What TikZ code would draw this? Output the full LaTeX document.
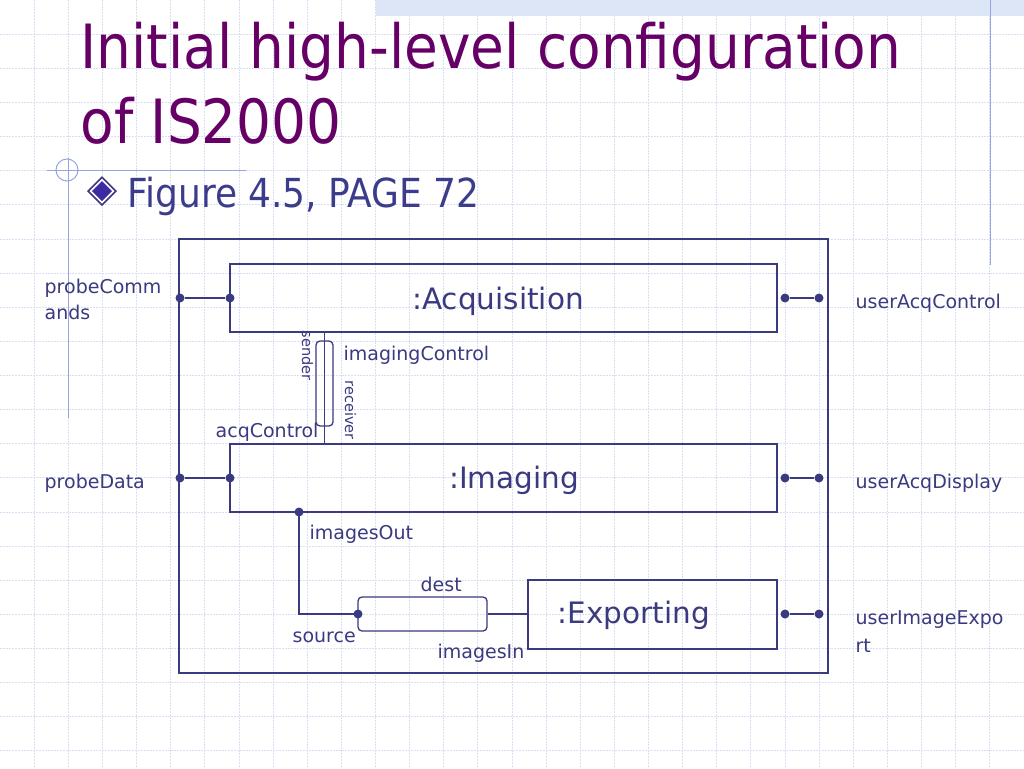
\documentclass[tikz,border=0pt]{standalone}
\usepackage{fontspec}
\setmainfont{DejaVu Sans Condensed}
\newfontfamily\diagfont{DejaVu Sans}
\usetikzlibrary{positioning}
\definecolor{navy}{RGB}{58,58,128}
\definecolor{plum}{RGB}{102,0,102}
\definecolor{slate}{RGB}{60,60,140}
\definecolor{deco}{RGB}{150,165,225}
\definecolor{gridc}{RGB}{218,222,242}
\definecolor{band}{RGB}{221,230,246}
\definecolor{gem}{RGB}{62,42,162}
\begin{document}
\begin{tikzpicture}[x=1pt,y=-1pt,line width=1.3pt,navy,
                    comp/.style={draw=navy,rectangle,inner sep=0pt,
                      font=\diagfont\fontsize{29.5}{36}\selectfont,text=navy},
                    port/.style={circle,fill=navy,inner sep=0pt,minimum size=9pt},
                    lbl/.style={text=navy,font=\diagfont\fontsize{19}{23}\selectfont,
                      inner sep=0pt,anchor=base west}]
    \tikzset{conn/.style={draw=navy,rounded corners=4pt,inner sep=0pt},
             vlbl/.style={lbl,rotate=-90,font=\diagfont\fontsize{14.5}{18}\selectfont}}
    \fill[white] (0,0) rectangle (1024,768);
    \useasboundingbox (0,0) rectangle (1024,768);
    \foreach \i in {1,...,29}
        \draw[gridc,line width=0.8pt,dash pattern=on 2pt off 1pt] (34.13*\i,0) -- (34.13*\i,768);
    \foreach \i in {1,...,22}
        \draw[gridc,line width=0.8pt,dash pattern=on 2pt off 1pt] (0,34.13*\i) -- (1024,34.13*\i);
    \fill[band] (376,0) rectangle (1024,16);
    \draw[deco,line width=1pt] (990,0) -- (990,265);
    \draw[deco,line width=1pt] (68,158) -- (68,418);
    \draw[deco,line width=1pt] (47,170) -- (246,170);
    \draw[deco,line width=1pt] (67,170) circle (11);
    \node[text=plum,font=\fontsize{61}{75}\selectfont,inner sep=0pt,anchor=base west] (t1) at (80,68) {Initial high-level configuration};
    \node[text=plum,font=\fontsize{61}{75}\selectfont,inner sep=0pt,anchor=base west] (t2) at (80,143) {of IS2000};
    \fill[navy] (102,176) -- (117,191) -- (102,206) -- (87,191) -- cycle;
    \fill[white] (102,178.5) -- (114.5,191) -- (102,203.5) -- (89.5,191) -- cycle;
    \fill[gem] (102,181) -- (112,191) -- (102,201) -- (92,191) -- cycle;
    \node[text=slate,font=\fontsize{40}{48}\selectfont,inner sep=0pt,anchor=base west] (sub) at (127,207) {Figure 4.5, PAGE 72};

    \node[draw=navy,line width=1.2pt,minimum width=649,minimum height=434,inner sep=0pt] (sys) at (503.5,456) {};
    \node[comp,minimum width=547,minimum height=68] (acq) at (503.5,298) {};
    \node[comp,minimum width=547,minimum height=68] (img) at (503.5,478) {};
    \node[comp,minimum width=249,minimum height=69] (exp) at (652.5,614.5) {};
    \node[comp,draw=none] at (498,301) {:Acquisition};
    \node[comp,draw=none] at (514,480) {:Imaging};
    \node[comp,draw=none] at (634,615) {:Exporting};

    \node[port] (pc1) at (180,298) {};
    \node[port] (pc2) at (230,298) {};
    \node[port] (pd1) at (180,478) {};
    \node[port] (pd2) at (230,478) {};
    \node[port] (uc1) at (785,298) {};
    \node[port] (uc2) at (819,298) {};
    \node[port] (ud1) at (785,478) {};
    \node[port] (ud2) at (819,478) {};
    \node[port] (ue1) at (785,614) {};
    \node[port] (ue2) at (819,614) {};
    \node[port] (io) at (299,512) {};
    \node[port] (src) at (358,614) {};
    \path (pc1) edge (pc2) (pd1) edge (pd2) (uc1) edge (uc2)
          (ud1) edge (ud2) (ue1) edge (ue2);

    \node[conn,minimum width=17,minimum height=85] (ctl) at (324.5,383.5) {};
    \draw (acq.south -| ctl) -- (img.north -| ctl);
    \node[conn,minimum width=129,minimum height=34] (pipe) at (422.5,614) {};
    \draw[line width=1.5pt] (io.center) |- (src.center);
    \draw (pipe.east) -- (exp.west |- pipe.east);

    \node[lbl] at (44,293) {probeComm};
    \node[lbl] at (44,319) {ands};
    \node[lbl] at (44,488) {probeData};
    \node[lbl] at (855,308) {userAcqControl};
    \node[lbl] at (855,488) {userAcqDisplay};
    \node[lbl] at (855,624) {userImageExpo};
    \node[lbl] at (855,652) {rt};
    \node[lbl] at (343,360) {imagingControl};
    \node[lbl] at (215,437) {acqControl};
    \node[vlbl] at (302,330) {sender};
    \node[vlbl] at (345,380) {receiver};
    \node[lbl] at (309,539) {imagesOut};
    \node[lbl] at (420,591) {dest};
    \node[lbl] at (292,642) {source};
    \node[lbl] at (437,658) {imagesIn};
\end{tikzpicture}
\end{document}
